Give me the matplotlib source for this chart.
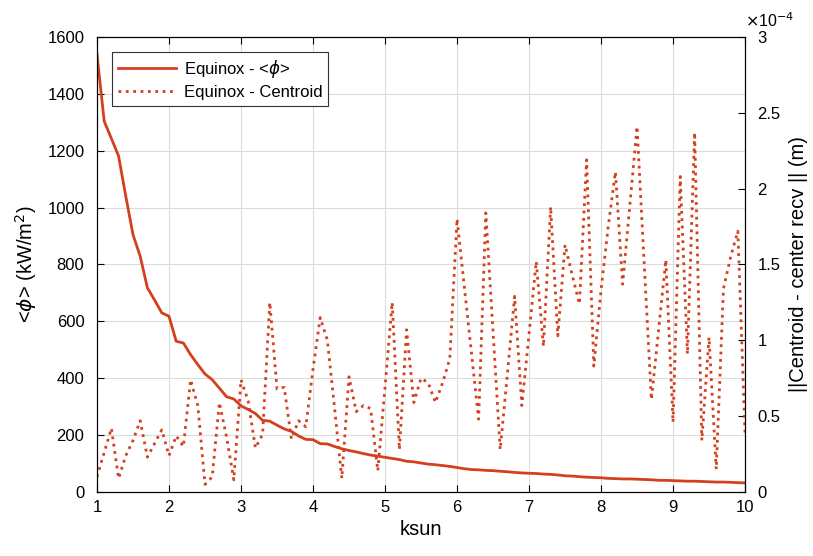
import matplotlib
matplotlib.use("Agg")
import matplotlib.pyplot as plt
import numpy as np
from matplotlib.ticker import FuncFormatter

plt.rcParams['font.family'] = ['Liberation Sans', 'DejaVu Sans']
plt.rcParams['mathtext.fontset'] = 'dejavusans'

# ksun from 1 to 10, step 0.1
ksun = [round(1.0 + 0.1 * i, 1) for i in range(91)]

# mean flux <phi> (kW/m^2)
phi_mean = [
    1538, 1304, 1243, 1181, 1040, 905, 829, 718, 675, 630,
    618, 530, 524, 483, 448, 415, 395, 365, 335, 327,
    303, 290, 276, 252, 249, 235, 222, 213, 197, 185,
    184, 170, 169, 160, 152, 146, 141, 135, 130, 126,
    122, 118, 114, 108, 106, 102, 98, 96, 93, 90,
    86, 82, 79, 78, 76, 75, 73, 71, 69, 67,
    66, 65, 63, 62, 60, 57, 56, 54, 52, 51,
    50, 48, 47, 46, 46, 45, 44, 43, 41, 41,
    40, 39, 38, 38, 37, 36, 35, 35, 34, 33,
    32,
]

# ||centroid - center recv|| in units of 1e-4 m
centroid_err_e4 = [
    0.10, 0.26, 0.42, 0.09, 0.24, 0.34, 0.47, 0.23, 0.32, 0.41,
    0.24, 0.37, 0.30, 0.74, 0.57, 0.05, 0.10, 0.59, 0.36, 0.08,
    0.74, 0.60, 0.29, 0.38, 1.25, 0.68, 0.69, 0.35, 0.47, 0.43,
    0.81, 1.15, 1.00, 0.55, 0.09, 0.76, 0.53, 0.57, 0.55, 0.14,
    0.69, 1.25, 0.28, 1.07, 0.59, 0.75, 0.72, 0.59, 0.72, 0.88,
    1.80, 1.36, 0.92, 0.48, 1.84, 1.06, 0.28, 0.78, 1.29, 0.57,
    1.04, 1.52, 0.96, 1.88, 1.03, 1.63, 1.43, 1.24, 2.19, 0.83,
    1.33, 1.75, 2.11, 1.37, 1.89, 2.41, 1.50, 0.61, 1.07, 1.53,
    0.46, 2.08, 0.91, 2.37, 0.34, 1.02, 0.15, 1.34, 1.55, 1.72,
    0.39,
]

color = '#D4401E'

fig = plt.figure(figsize=(8.13, 5.56), dpi=100)
ax = fig.add_axes([0.1193, 0.1151, 0.9164 - 0.1193, 0.9335 - 0.1151])
ax2 = ax.twinx()

l1, = ax.plot(ksun, phi_mean, color=color, lw=2.0, label='Equinox - <$\\phi$>')
l2, = ax2.plot(ksun, centroid_err_e4, color=color, lw=2.0, ls=':',
               label='Equinox - Centroid')

ax.set_xlim(1, 10)
ax.set_ylim(0, 1600)
ax.set_xticks(range(1, 11))
ax.set_yticks(range(0, 1601, 200))
ax2.set_ylim(0, 3)
ax2.set_yticks([0, 0.5, 1, 1.5, 2, 2.5, 3])
ax2.yaxis.set_major_formatter(FuncFormatter(lambda v, p: '%g' % v))

ax.grid(True, color='#dcdcdc', lw=0.8)
ax.set_axisbelow(True)
ax.tick_params(axis='x', direction='in', top=True, labelsize=12, length=5, pad=6)
ax.tick_params(axis='y', direction='in', labelsize=12, length=5, pad=9)
ax2.tick_params(axis='y', direction='in', labelsize=12, length=5, pad=9)
for a in (ax, ax2):
    for s in a.spines.values():
        s.set_linewidth(0.8)
        s.set_color('black')

ax.set_xlabel('ksun', fontsize=14.5, labelpad=3)
ax.set_ylabel('<$\\phi$> (kW/m$^2$)', fontsize=14.5, labelpad=6)
ax2.set_ylabel('||Centroid - center recv || (m)', fontsize=14.5, labelpad=6)
ax2.text(1.0, 1.015, '$\\times$10$^{-4}$', transform=ax2.transAxes,
         fontsize=11.5, ha='left', va='bottom')

leg = ax.legend(handles=[l1, l2], loc='upper left', fontsize=12,
                fancybox=False, framealpha=1, edgecolor='#333333',
                borderaxespad=0.9, handlelength=3.5, handletextpad=0.45,
                borderpad=0.35, labelspacing=0.3)
leg.get_frame().set_linewidth(0.8)

fig.savefig('out.png', dpi=100)
